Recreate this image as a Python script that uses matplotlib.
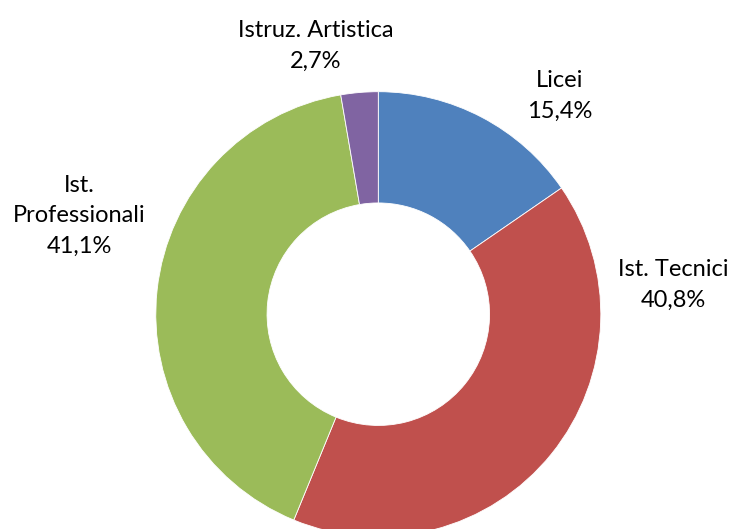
import matplotlib
matplotlib.use("Agg")
import matplotlib.pyplot as plt

categories = ["Licei", "Ist. Tecnici", "Ist. Professionali", "Istruz. Artistica"]
values = [15.4, 40.8, 41.1, 2.7]
label_names = ["Licei", "Ist. Tecnici", "Ist.\nProfessionali", "Istruz. Artistica"]
colors = ["#4F81BD", "#C0504D", "#9BBB59", "#8064A2"]

W, H = 732, 529
fig = plt.figure(figsize=(W / 100, H / 100), dpi=100)
ax = fig.add_axes([0, 0, 1, 1])

cx, cy, R = 378.3, H - 314.2, 222.5
ax.pie(values, colors=colors, startangle=90, counterclock=False,
       center=(cx, cy), radius=R, frame=True,
       wedgeprops=dict(width=R * 0.5, edgecolor="white", linewidth=0.6))
ax.set_xlim(0, W)
ax.set_ylim(0, H)
ax.set_aspect("equal")
ax.axis("off")

label_pos = [(560, 96), (673, 285), (79, 216), (316, 46)]
for name, v, (x, y) in zip(label_names, values, label_pos):
    txt = name + "\n" + f"{v:.1f}".replace(".", ",") + "%"
    ax.text(x, H - y, txt, ha="center", va="center", fontsize=17,
            family="Lato", color="#000000", linespacing=1.55)

fig.savefig("out.png", dpi=100)
